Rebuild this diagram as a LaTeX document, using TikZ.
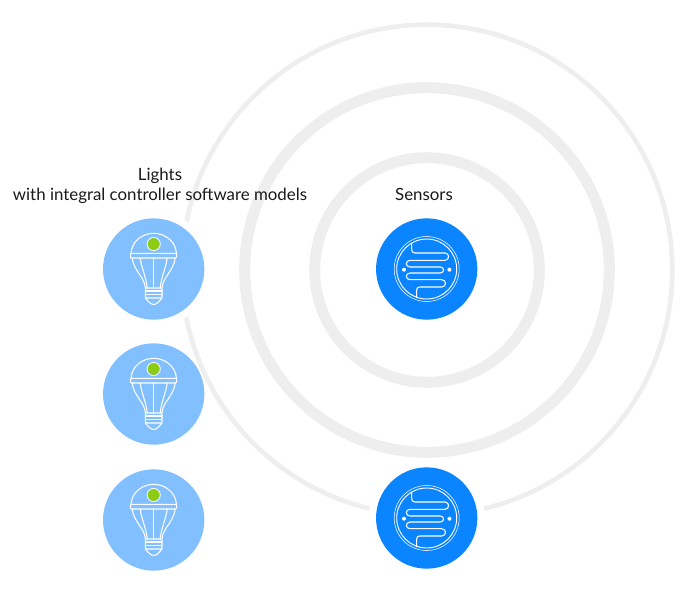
\documentclass[tikz,border=0pt]{standalone}
\usepackage{fontspec}
\setmainfont{Lato}
\definecolor{ringc}{HTML}{EEEEEE}
\definecolor{lightc}{HTML}{82BFFF}
\definecolor{sensorc}{HTML}{0A84FF}
\definecolor{greenc}{HTML}{8CCC14}
\definecolor{textc}{HTML}{1A1A1A}
\tikzset{
  ring/.style={draw=ringc},
  halo/.style={circle,fill=white,minimum size=87pt,inner sep=0pt},
  lightdisc/.style={circle,fill=lightc,minimum size=76pt,inner sep=0pt},
  sensordisc/.style={circle,fill=sensorc,minimum size=76pt,inner sep=0pt},
  label/.style={text=textc,font=\fontsize{12.65}{15}\selectfont,align=center},
  bulb/.pic={
    \begin{scope}[draw=white,line width=0.8pt,line join=round,line cap=round]
      \draw (-22.7,-15.7) .. controls (-22,-28) and (-11,-35.7) .. (0,-35.7) .. controls (11,-35.7) and (22,-28) .. (22.7,-15.7);
      \draw[rounded corners=0.8pt] (-23.3,-15.7) rectangle (23,-11);
      \draw (-21.5,-11) .. controls (-20,2) and (-9,8) .. (-8.3,19);
      \draw (21.5,-11) .. controls (20,2) and (9,8) .. (8.3,19);
      \draw (-13.5,-11) .. controls (-12,0) and (-7.5,8) .. (-6.5,19);
      \draw (13.5,-11) .. controls (12,0) and (7.5,8) .. (6.5,19);
      \draw (0,-11) -- (0,19);
      \draw[rounded corners=0.8pt] (-8.3,19) -- (8.3,19) -- (8.3,29) -- (-8.3,29) -- cycle;
      \draw (-8.3,22) -- (8.3,22);
      \draw (-8.3,25.5) -- (8.3,25.5);
      \draw (-8.3,29) .. controls (-6,32) and (-3,35.5) .. (0,35.5) .. controls (3,35.5) and (6,32) .. (8.3,29);
      \fill[greenc] (0,-25) circle[radius=6];
      \draw[line width=0.6pt] (0,-25) circle[radius=6.6];
    \end{scope}
  },
  sensoricon/.pic={
    \begin{scope}[draw=white,line cap=round,line join=round]
      \draw[line width=0.4pt] (0,0) circle[radius=32.5];
      \draw[line width=0.7pt] (0,0) circle[radius=30];
      \fill[white] (-22.7,0.7) circle[radius=2];
      \fill[white] (22.7,0.7) circle[radius=2];
      \draw[line width=0.8pt] (-15,-25.3) -- (-15,-19.5)
        .. controls (-15,-17.5) and (-14,-16) .. (-12,-16) -- (18.3,-16)
        .. controls (23,-16) and (23,-8.7) .. (18.3,-8.7) -- (-16.7,-8.7)
        .. controls (-21.5,-8.7) and (-21.5,-2) .. (-16.7,-2) -- (13.5,-2)
        .. controls (18,-2) and (18,4) .. (13.5,4) -- (-16.7,4)
        .. controls (-21.5,4) and (-21.5,10.7) .. (-16.7,10.7) -- (15,10.7)
        .. controls (20,10.7) and (20,18) .. (15,18) -- (-7,18)
        .. controls (-9,18) and (-10,19) .. (-10,21) -- (-10,28.7);
    \end{scope}
  }
}
\begin{document}
\begin{tikzpicture}[x=0.75pt,y=-0.75pt]
  \useasboundingbox (0,0) rectangle (681,610);
  % rings
  \draw[ring,line width=3.5pt] (427,270) circle[radius=245.3];
  \draw[ring,line width=8.25pt] (427,270) circle[radius=182.3];
  \draw[ring,line width=8.25pt] (427,270) circle[radius=112.3];
  % white halos that break the outer ring
  \node[halo] (haloA) at (153.7,269) {};
  \node[halo] (haloB) at (426.7,518) {};
  % lights
  \node[lightdisc] (lightA) at (153.7,269) {};
  \node[lightdisc] (lightB) at (153.7,394) {};
  \node[lightdisc] (lightC) at (153.7,520) {};
  \pic at (lightA) {bulb};
  \pic at (lightB) {bulb};
  \pic at (lightC) {bulb};
  % sensors
  \node[sensordisc] (sensorA) at (426.7,269) {};
  \node[sensordisc] (sensorB) at (426.7,518) {};
  \pic at (sensorA) {sensoricon};
  \pic at (sensorB) {sensoricon};
  % labels
  \node[label] (lightslabel) at (160,186) {Lights\\with integral controller software models};
  \node[label] (sensorslabel) at (424,194.5) {Sensors};
\end{tikzpicture}
\end{document}
